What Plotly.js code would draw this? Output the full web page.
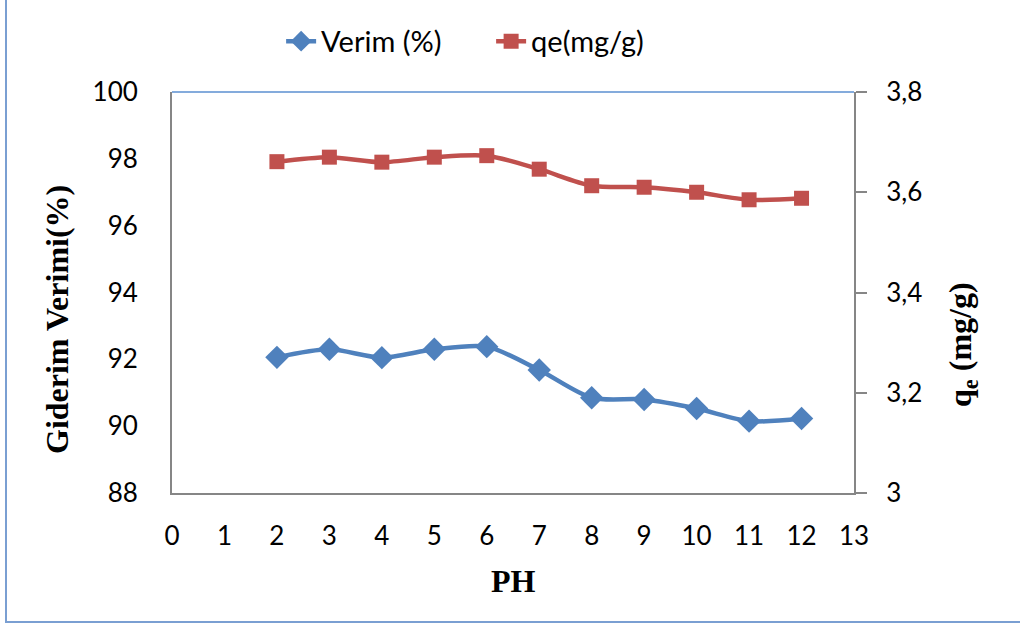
<!DOCTYPE html>
<html>
<head>
<meta charset="utf-8">
<script src="https://cdn.plot.ly/plotly-3.0.1.min.js"></script>
<style>
  html, body { margin: 0; padding: 0; background: #ffffff; }
  #chart { width: 1020px; height: 626px; }
</style>
</head>
<body>
<div id="chart"></div>
<script>
// ---- data ----
const ph = [2, 3, 4, 5, 6, 7, 8, 9, 10, 11, 12];
const verim = [92.06, 92.30, 92.05, 92.30, 92.38, 91.68, 90.85, 90.80, 90.53, 90.15, 90.23];
const qe = [3.661, 3.670, 3.660, 3.670, 3.673, 3.646, 3.613, 3.610, 3.600, 3.585, 3.588];

const seriesNames = ["Verim (%)", "qe(mg/g)"];
const xTickVals = [0, 1, 2, 3, 4, 5, 6, 7, 8, 9, 10, 11, 12, 13];
const yLeftTickVals = [88, 90, 92, 94, 96, 98, 100];
const yRightTickVals = [3, 3.2, 3.4, 3.6, 3.8];
const yRightTickText = ["3", "3,2", "3,4", "3,6", "3,8"];

const xTitle = "PH";
const yLeftTitle = "Giderim Verimi(%)";
const yRightTitle = "q<sub>e</sub> (mg/g)";

// ---- styles ----
const blue = "#4F81BD";
const red = "#C0504D";
const axisGray = "#868686";
const tickFont = { family: "Lato, 'Open Sans', sans-serif", size: 26, color: "#000000" };
const titleFont = { family: "'Liberation Serif', 'Times New Roman', serif", size: 32, color: "#000000", weight: "bold" };

const traces = [
  {
    x: ph, y: verim, name: seriesNames[0], type: "scatter", mode: "lines+markers",
    line: { color: blue, width: 4.5, shape: "spline", smoothing: 0.8 },
    marker: { symbol: "diamond", size: 18, color: blue },
    yaxis: "y"
  },
  {
    x: ph, y: qe, name: seriesNames[1], type: "scatter", mode: "lines+markers",
    line: { color: red, width: 4.5, shape: "spline", smoothing: 0.8 },
    marker: { symbol: "square", size: 15, color: red },
    yaxis: "y2"
  }
];

const layout = {
  width: 1020, height: 626,
  margin: { l: 172, r: 166, t: 92, b: 133, pad: 0 },
  paper_bgcolor: "#ffffff", plot_bgcolor: "#ffffff",
  separators: ", ",
  showlegend: true,
  legend: {
    orientation: "h", x: 0.16, xanchor: "left", y: 1.19, yanchor: "top",
    font: { family: "Lato, 'Open Sans', sans-serif", size: 29, color: "#000000" },
    itemwidth: 30, entrywidth: 165, entrywidthmode: "pixels",
    traceorder: "normal", bgcolor: "rgba(0,0,0,0)"
  },
  xaxis: {
    range: [0, 13], tickmode: "array", tickvals: xTickVals,
    showgrid: false, zeroline: false,
    showline: true, linecolor: axisGray, linewidth: 2,
    ticks: "", ticklabelstandoff: 19, tickfont: tickFont
  },
  yaxis: {
    range: [88, 100], tickmode: "array", tickvals: yLeftTickVals,
    showgrid: false, zeroline: false,
    showline: true, linecolor: axisGray, linewidth: 2,
    ticks: "", ticklabelstandoff: 27, tickfont: tickFont
  },
  yaxis2: {
    range: [3, 3.8], overlaying: "y", side: "right",
    tickmode: "array", tickvals: yRightTickVals, ticktext: yRightTickText,
    showgrid: false, zeroline: false,
    showline: true, linecolor: axisGray, linewidth: 2,
    ticks: "outside", ticklen: 11, tickwidth: 2, tickcolor: axisGray,
    ticklabelstandoff: 14, tickfont: tickFont
  },
  shapes: [
    { type: "line", xref: "paper", yref: "paper", x0: 0, x1: 1, y0: 1, y1: 1,
      line: { color: "#5B8FD0", width: 1.5 } },
    { type: "rect", xref: "paper", yref: "paper",
      x0: (6 - 172) / 682, x1: (1030 - 172) / 682,
      y0: (493 - 622) / 401, y1: (493 + 10) / 401,
      line: { color: "#7A9FD2", width: 2 }, fillcolor: "rgba(0,0,0,0)" }
  ],
  annotations: [
    { text: xTitle, xref: "paper", yref: "paper", x: 0.5, y: -0.22,
      xanchor: "center", yanchor: "middle", showarrow: false, font: titleFont },
    { text: yLeftTitle, xref: "paper", yref: "paper", x: (57 - 172) / 682, y: (493 - 320) / 401,
      xanchor: "center", yanchor: "middle", textangle: -90, showarrow: false, font: titleFont },
    { text: yRightTitle, xref: "paper", yref: "paper", x: (962 - 172) / 682, y: (493 - 345) / 401,
      xanchor: "center", yanchor: "middle", textangle: -90, showarrow: false, font: titleFont }
  ]
};

Plotly.newPlot("chart", traces, layout, { displayModeBar: false, staticPlot: true });
</script>
</body>
</html>
